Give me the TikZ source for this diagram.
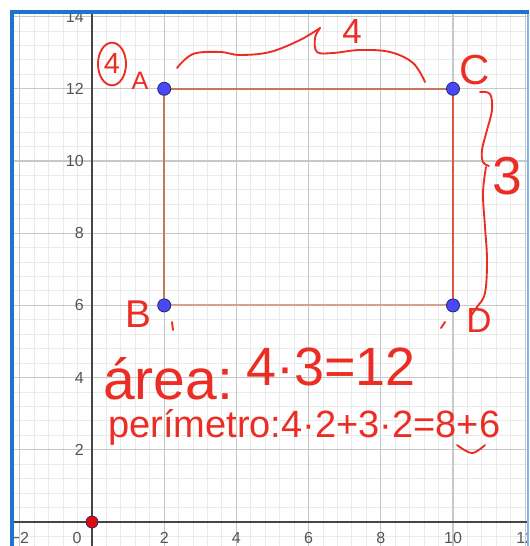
\documentclass[tikz,border=0pt]{standalone}
\usepackage{fontspec}
\usepackage{graphicx}
\setmainfont{Liberation Sans}
\definecolor{gridminor}{RGB}{234,234,234}
\definecolor{gridmajor}{RGB}{200,200,200}
\definecolor{axisgray}{RGB}{70,70,70}
\definecolor{labgray}{RGB}{85,85,85}
\definecolor{framblue}{RGB}{28,118,205}
\definecolor{rectbrown}{RGB}{192,122,92}
\definecolor{rectred}{RGB}{218,88,62}
\definecolor{handred}{RGB}{236,45,35}
\definecolor{ptblue}{RGB}{72,72,246}
\definecolor{ptedge}{RGB}{40,40,110}
\definecolor{ptred}{RGB}{225,10,10}
\begin{document}
\begin{tikzpicture}[x=0.75pt,y=-0.75pt,
  minorline/.style={draw=gridminor,line width=0.75pt},
  majorline/.style={draw=gridmajor,line width=0.9pt},
  axisline/.style={draw=axisgray,line width=1.1pt},
  axlab/.style={text=labgray,font=\fontsize{12pt}{12pt}\selectfont,inner sep=0pt},
  edgebrown/.style={draw=rectbrown,line width=1.6pt},
  edgered/.style={draw=rectred,line width=1.6pt},
  bpt/.style={circle,fill=ptblue,draw=ptedge,line width=0.6pt,minimum size=9.8pt,inner sep=0pt},
  rpt/.style={circle,fill=ptred,draw=ptedge,line width=0.6pt,minimum size=9pt,inner sep=0pt},
  hand/.style={text=handred,inner sep=0pt},
  hline/.style={draw=handred,line width=1.4pt,line cap=round,line join=round}]
\useasboundingbox (0,0) rectangle (529,546);
\fill[white] (0,0) rectangle (529,546);
\begin{scope}
  \clip (14,14) rectangle (527,546);
  \foreach \k in {-6,...,30} \draw[minorline] ({92+14.44*\k},14) -- ({92+14.44*\k},546);
  \foreach \k in {-2,...,35} \draw[minorline] (14,{522-14.44*\k}) -- (527,{522-14.44*\k});
  \foreach \k in {-1,...,6} \draw[majorline] ({92+72.2*\k},14) -- ({92+72.2*\k},546);
  \foreach \k in {0,...,7} \draw[majorline] (14,{522-72.2*\k}) -- (527,{522-72.2*\k});
  \draw[axisline] (14,522) -- (527,522);
  \draw[axisline] (92,14) -- (92,546);
  \node[axlab] (xlm2) at (19.8,538) {−2};
  \node[axlab] (xl0) at (77,538) {0};
  \foreach \v/\p in {2/164.2,4/236.4,6/308.6,8/380.8,10/453,12/525.2}
    \node[axlab] (xl\v) at (\p,538) {\v};
  \foreach \v/\p in {2/449.8,4/377.6,6/305.4,8/233.2,10/161,12/88.8,14/16.6}
    \node[axlab,anchor=east] (yl\v) at (84,\p) {\v};
\end{scope}
% frame
\fill[framblue] (9.5,9.5) rectangle (14,546);
\fill[framblue] (9.5,9.5) rectangle (529,13.5);
\fill[framblue!55] (526.5,13.5) rectangle (529,546);
% rectangle
\coordinate (a) at (164.2,88.8);
\coordinate (c) at (453,88.8);
\coordinate (d) at (453,305.4);
\coordinate (b) at (164.2,305.4);
\draw[edgebrown] (a) -- (c);
\draw[edgebrown] (a) -- (b);
\draw[draw=rectbrown!70,line width=1.6pt] (b) -- (d);
\draw[edgered] (c) -- (d);
\node[bpt] (A) at (a) {};
\node[bpt] (C) at (c) {};
\node[bpt] (D) at (d) {};
\node[bpt] (B) at (b) {};
\node[rpt] (O) at (92,522) {};
% handwriting
\draw[hline] (112,64) ellipse [x radius=10.5pt, y radius=16pt];
\node[hand] (n4) at (112,64) {\resizebox{!}{15pt}{4}};
\node[hand] (lA) at (140,81) {\resizebox{!}{13pt}{A}};
\node[hand] (lC) at (475,70) {\resizebox{!}{22pt}{C}};
\node[hand] (lB) at (138,314) {\resizebox{!}{20pt}{B}};
\node[hand] (lD) at (479,320) {\resizebox{!}{18pt}{D}};
\node[hand] (top4) at (352,31) {\resizebox{!}{18pt}{4}};
\node[hand] (r3) at (507,176) {\resizebox{!}{28pt}{3}};
\draw[hline] plot[smooth,tension=0.6] coordinates {(177,68) (193,54) (220,52) (240,55) (270,52) (300,40) (320,28)};
\draw[hline] plot[smooth,tension=0.6] coordinates {(320,28) (315,38) (317,52) (333,53) (360,50) (390,52) (413,63) (425,82)};
\draw[hline] plot[smooth,tension=0.6] coordinates {(480,92) (490,94) (492,110) (487,130) (482,150) (483,162) (489,166)};
\draw[hline] plot[smooth,tension=0.6] coordinates {(486,167) (483,193) (485,227) (487,260) (485,293) (477,307) (470,317)};
\draw[hline] (172,322) -- (173,330);
\draw[hline] (445,322) -- (441,328);
\node[hand,anchor=base west] (area) at (103,399) {\resizebox{97.5pt}{!}{área:}};
\node[hand,anchor=base west] (areaval) at (246,385) {\resizebox{127pt}{!}{4·3=12}};
\node[hand,anchor=base west] (perim) at (108,437) {\resizebox{294pt}{!}{perímetro:4·2+3·2=8+6}};
\draw[hline] plot[smooth,tension=0.6] coordinates {(457,445) (472,453) (485,445)};
\end{tikzpicture}
\end{document}
